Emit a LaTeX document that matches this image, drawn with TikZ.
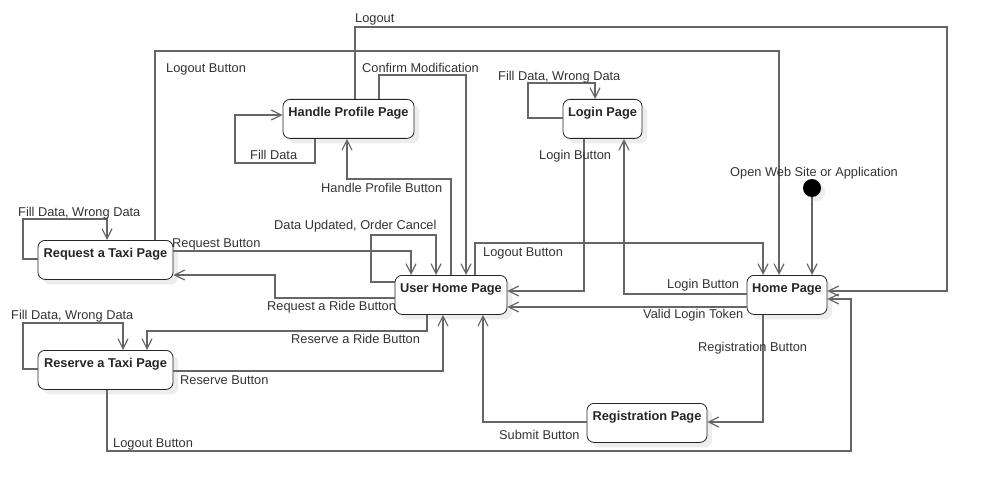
\documentclass[tikz,border=0pt]{standalone}
\usepackage{fontspec}
\setmainfont{Liberation Sans}
\usetikzlibrary{arrows.meta,shadows}
\definecolor{wiregray}{HTML}{666666}
\definecolor{ink}{HTML}{333333}

\begin{document}
\begin{tikzpicture}[x=1pt,y=-1pt,
    page/.style={draw=black!85, line width=0.8pt, rounded corners=7pt, fill=white,
      drop shadow={shadow xshift=5pt, shadow yshift=-5pt, fill=black!7, opacity=1},
      font=\fontsize{12.8}{15}\selectfont\bfseries, text=black!85,
      inner xsep=2pt, inner ysep=0pt, text height=17pt, text depth=22pt, anchor=north},
    wire/.style={draw=wiregray, line width=1.2pt, -{Straight Barb[length=10pt,width=10pt]}},
    lbl/.style={anchor=west, inner sep=0pt, yshift=-2pt, font=\fontsize{12.8}{15}\selectfont, text=ink}]
  \useasboundingbox (0,0) rectangle (988,492);

  % states
  \node[page, minimum width=131pt] (hpp)   at (348.5,99) {Handle Profile Page};
  \node[page, minimum width=79pt]  (login) at (602.5,99) {Login Page};
  \node[page, minimum width=135pt] (rtp)   at (105.5,240) {Request a Taxi Page};
  \node[page, minimum width=135pt] (rsv)   at (105.5,350) {Reserve a Taxi Page};
  \node[page, minimum width=112pt] (uhp)   at (451,275) {User Home Page};
  \node[page, minimum width=80pt]  (home)  at (787,275) {Home Page};
  \node[page, minimum width=120pt] (reg)   at (647,403) {Registration Page};
  \node[circle, fill=black, minimum size=18pt, inner sep=0pt,
        drop shadow={shadow xshift=4pt, shadow yshift=-4pt, fill=black!7, opacity=1}] (init) at (812,188) {};

  % transitions
  \draw[wire] (hpp.north -| 355,0) |- (947,27) |- (home.east |- 0,291);
  \draw[wire] (rtp.north -| 155,0) |- (779,51) -- (home.north -| 779,0);
  \draw[wire] (hpp.north -| 379,0) |- (466,75) -- (uhp.north -| 466,0);
  \draw[wire] (hpp.south -| 315,0) |- (235,163) |- (hpp.west |- 0,115);
  \draw[wire] (uhp.north -| 451,0) |- (347,179) -- (hpp.south -| 347,0);
  \draw[wire] (uhp.west |- 0,282) -| (371,235) -| (uhp.north -| 436,0);
  \draw[wire] (rtp.east |- 0,251) -| (uhp.north -| 411,0);
  \draw[wire] (uhp.west |- 0,298) -| (275,275) -- (rtp.east |- 0,275);
  \draw[wire] (uhp.south -| 427,0) |- (147,331) -- (rsv.north -| 147,0);
  \draw[wire] (rsv.west |- 0,369) -| (23,323) -| (rsv.north -| 123,0);
  \draw[wire] (rsv.east |- 0,371) -| (uhp.south -| 443,0);
  \draw[wire] (rsv.south -| 107,0) |- (851,451) |- (home.east |- 0,299);
  \draw[wire] (rtp.west |- 0,259) -| (23,219) -| (rtp.north -| 107,0);
  \draw[wire] (reg.west |- 0,422) -| (uhp.south -| 483,0);
  \draw[wire] (home.south -| 763,0) |- (reg.east |- 0,422);
  \draw[wire] (home.west |- 0,307) -- (uhp.east |- 0,307);
  \draw[wire] (login.south -| 584,0) |- (uhp.east |- 0,291);
  \draw[wire] (home.west |- 0,294) -| (login.south -| 624,0);
  \draw[wire] (login.west |- 0,118) -| (528,83) -| (login.north -| 595,0);
  \draw[wire] (uhp.north -| 475,0) |- (763,243) -- (home.north -| 763,0);
  \draw[wire] (init.south) -- (home.north -| init);

  % labels
  \node[lbl] (lLogout)   at (355,17)  {Logout};
  \node[lbl] (lOutRtp)   at (166,67)  {Logout Button};
  \node[lbl] (lConfirm)  at (362,66)  {Confirm Modification};
  \node[lbl] (lFillHpp)  at (250,153) {Fill Data};
  \node[lbl] (lProfile)  at (321,186) {Handle Profile Button};
  \node[lbl] (lFillRtp)  at (18,211)  {Fill Data, Wrong Data};
  \node[lbl] (lUpdated)  at (274,224) {Data Updated, Order Cancel};
  \node[lbl] (lRequest)  at (172,242) {Request Button};
  \node[lbl] (lRide)     at (267,305) {Request a Ride Button};
  \node[lbl] (lFillRsv)  at (11,314)  {Fill Data, Wrong Data};
  \node[lbl] (lRsvRide)  at (291,337) {Reserve a Ride Button};
  \node[lbl] (lReserve)  at (180,378) {Reserve Button};
  \node[lbl] (lOutRsv)   at (113,442) {Logout Button};
  \node[lbl] (lFillLog)  at (498,75)  {Fill Data, Wrong Data};
  \node[lbl] (lLogin)    at (539,154) {Login Button};
  \node[lbl] (lOpen)     at (730,171) {Open Web Site or Application};
  \node[lbl] (lOutUhp)   at (483,251) {Logout Button};
  \node[lbl] (lLoginH)   at (667,283) {Login Button};
  \node[lbl] (lToken)    at (643,313) {Valid Login Token};
  \node[lbl] (lRegBtn)   at (698,346) {Registration Button};
  \node[lbl] (lSubmit)   at (499,433) {Submit Button};
\end{tikzpicture}
\end{document}
